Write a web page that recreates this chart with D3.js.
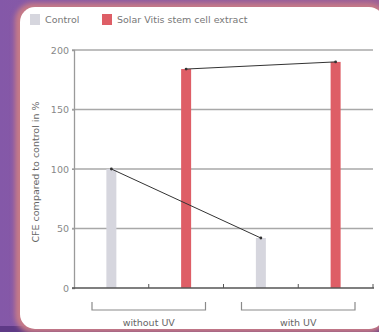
<!DOCTYPE html>
<html><head><meta charset="utf-8">
<script src="https://cdn.jsdelivr.net/npm/d3@7"></script>
<style>html,body{margin:0;padding:0;background:#8a5aa6;overflow:hidden}</style>
</head><body>
<svg id="c" width="379" height="332"></svg>
<script>
const groups = ["without UV", "with UV"];
const seriesNames = ["Control", "Solar Vitis stem cell extract"];
const controlValues = [100, 42];
const solarVitisValues = [184, 190];
const yTicks = [0, 50, 100, 150, 200];
const yLabel = "CFE compared to control in %";
const colors = ["#d6d6de", "#de5e66"];

const svg = d3.select("#c");
const defs = svg.append("defs");
const bg = defs.append("linearGradient").attr("id","bg").attr("x1","0").attr("x2","1").attr("y1","0").attr("y2","0");
bg.append("stop").attr("offset","0").attr("stop-color","#8458a8");
bg.append("stop").attr("offset","1").attr("stop-color","#9a5e98");
const blur = defs.append("filter").attr("id","bl").attr("x","-10%").attr("y","-10%").attr("width","120%").attr("height","120%");
blur.append("feGaussianBlur").attr("stdDeviation", 2.5);

svg.append("rect").attr("width",379).attr("height",332).attr("fill","url(#bg)");
svg.append("rect").attr("x",0).attr("y",326).attr("width",379).attr("height",6).attr("fill","#5e3a86");
svg.append("rect").attr("x",15).attr("y",3).attr("width",372).attr("height",330).attr("rx",18)
  .attr("fill","#c77a86").attr("filter","url(#bl)");
svg.append("rect").attr("x",20).attr("y",7).attr("width",364).attr("height",322).attr("rx",15).attr("fill","#ffffff");

// data table from arrays
const cats = [];
groups.forEach((g, gi) => {
  cats.push({key: g + "|0", group: gi, series: 0, value: controlValues[gi]});
  cats.push({key: g + "|1", group: gi, series: 1, value: solarVitisValues[gi]});
});

const x = d3.scaleBand().domain(cats.map(d => d.key)).range([74, 373]).padding(0);
const y = d3.scaleLinear().domain([0, 200]).range([288, 50]);
const barW = 10;
const font = "DejaVu Sans, sans-serif";

// grid
svg.append("g").selectAll("line").data(yTicks.filter(t => t > 0)).join("line")
  .attr("x1", 72).attr("x2", 373).attr("y1", d => y(d)).attr("y2", d => y(d))
  .attr("stroke", "#a8a8a8").attr("stroke-width", 1.3);

// y axis
const yAxis = svg.append("g").attr("transform", "translate(74,0)")
  .call(d3.axisLeft(y).tickValues(yTicks).tickSize(2).tickPadding(3));
yAxis.select(".domain").attr("stroke", "#9a9a9a").attr("stroke-width", 1.3);
yAxis.selectAll(".tick line").attr("stroke", "#9a9a9a");
yAxis.selectAll("text").attr("font-family", font).attr("font-size", 9.5).attr("fill", "#888");

// bars
svg.append("g").selectAll("rect").data(cats).join("rect")
  .attr("x", d => x(d.key) + x.bandwidth()/2 - barW/2)
  .attr("y", d => y(d.value))
  .attr("width", barW)
  .attr("height", d => y(0) - y(d.value))
  .attr("fill", d => colors[d.series]);

// x axis
const xAxis = svg.append("g").attr("transform", "translate(0,288)");
xAxis.append("line").attr("x1", 72).attr("x2", 374).attr("y1", 0).attr("y2", 0)
  .attr("stroke", "#555").attr("stroke-width", 1.4);
xAxis.selectAll("line.t").data(cats.slice(1).map(d => x(d.key)).concat([x.range()[1]])).join("line")
  .attr("class","t").attr("x1", d => d).attr("x2", d => d).attr("y1", 0).attr("y2", -4)
  .attr("stroke", "#555").attr("stroke-width", 1);

// connecting lines
[controlValues, solarVitisValues].forEach((vals, si) => {
  const pts = vals.map((v, gi) => [x(groups[gi] + "|" + si) + x.bandwidth()/2, y(v)]);
  svg.append("path").attr("d", d3.line()(pts)).attr("stroke", "#333").attr("stroke-width", 1).attr("fill", "none");
  svg.append("g").selectAll("circle").data(pts).join("circle")
    .attr("cx", d => d[0]).attr("cy", d => d[1]).attr("r", 1.4).attr("fill", "#333");
});

// group brackets
groups.forEach((g, gi) => {
  const x0 = x(g + "|0") + 18, x1 = x(g + "|1") + x.bandwidth() - 18;
  svg.append("path").attr("d", `M${x0},302V310H${x1}V302`).attr("fill", "none")
    .attr("stroke", "#8a8a8a").attr("stroke-width", 1.2);
  svg.append("text").attr("x", (x0 + x1)/2).attr("y", 326).attr("text-anchor", "middle")
    .attr("font-family", font).attr("font-size", 9.5).attr("fill", "#666").text(g);
});

// y label
svg.append("text").attr("transform", "translate(39,172) rotate(-90)").attr("text-anchor", "middle")
  .attr("font-family", font).attr("font-size", 9.5).attr("fill", "#666").text(yLabel);

// legend
const lx = [30, 102];
seriesNames.forEach((s, i) => {
  svg.append("rect").attr("x", lx[i]).attr("y", 14).attr("width", 10).attr("height", 11).attr("fill", colors[i]);
  svg.append("text").attr("x", lx[i] + 15).attr("y", 23).attr("font-family", font).attr("font-size", 9.5)
    .attr("fill", "#777").text(s);
});
</script>
</body></html>
